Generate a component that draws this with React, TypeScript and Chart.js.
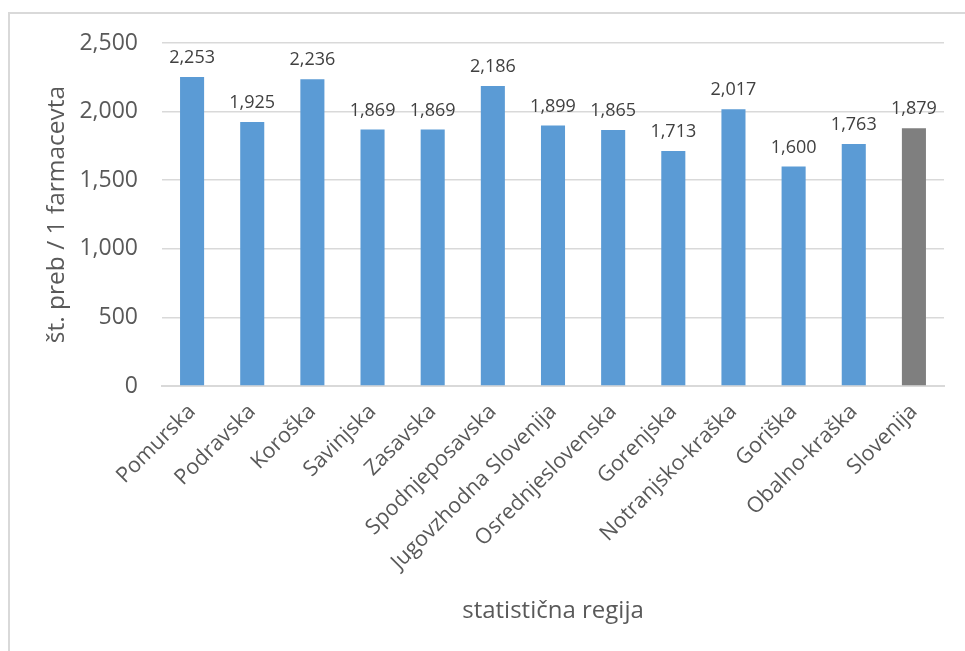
import React, { useEffect, useRef } from "react";
import { Chart, registerables } from "chart.js";

Chart.register(...registerables);

const categories = [
  "Pomurska",
  "Podravska",
  "Koroška",
  "Savinjska",
  "Zasavska",
  "Spodnjeposavska",
  "Jugovzhodna Slovenija",
  "Osrednjeslovenska",
  "Gorenjska",
  "Notranjsko-kraška",
  "Goriška",
  "Obalno-kraška",
  "Slovenija",
];
const values = [2253, 1925, 2236, 1869, 1869, 2186, 1899, 1865, 1713, 2017, 1600, 1763, 1879];
const barColors = [
  "#5B9BD5", "#5B9BD5", "#5B9BD5", "#5B9BD5", "#5B9BD5", "#5B9BD5", "#5B9BD5",
  "#5B9BD5", "#5B9BD5", "#5B9BD5", "#5B9BD5", "#5B9BD5", "#7F7F7F",
];
const yTitle = "št. preb / 1 farmacevta";
const xTitle = "statistična regija";

const FONT = "'Open Sans', 'DejaVu Sans', sans-serif";

const dataLabels = {
  id: "dataLabels",
  afterDatasetsDraw(chart: any) {
    const ctx = chart.ctx;
    const meta = chart.getDatasetMeta(0);
    ctx.save();
    ctx.font = `18px ${FONT}`;
    ctx.fillStyle = "#404040";
    ctx.textAlign = "center";
    ctx.textBaseline = "bottom";
    meta.data.forEach((bar: any, i: number) => {
      const v = chart.data.datasets[0].data[i] as number;
      ctx.fillText(v.toLocaleString("en-US"), bar.x, bar.y - 10);
    });
    ctx.restore();
  },
};

export default function App() {
  const ref = useRef<HTMLCanvasElement | null>(null);
  useEffect(() => {
    if (!ref.current) return;
    const chart = new Chart(ref.current, {
      type: "bar",
      data: {
        labels: categories,
        datasets: [
          {
            data: values,
            backgroundColor: barColors,
            barPercentage: 0.4,
            categoryPercentage: 1,
          },
        ],
      },
      options: {
        responsive: false,
        animation: false,
        layout: { padding: { left: 10, right: 21, top: 43, bottom: 10 } },
        plugins: { legend: { display: false }, tooltip: { enabled: false } },
        scales: {
          x: {
            grid: { display: false },
            border: { display: true, color: "#d9d9d9", width: 2 },
            ticks: {
              color: "#595959",
              font: { family: FONT, size: 21.5 },
              minRotation: 45,
              maxRotation: 45,
              padding: 5,
              autoSkip: false,
            },
            title: {
              display: true,
              text: xTitle,
              color: "#595959",
              font: { family: FONT, size: 24 },
              padding: { top: 0, bottom: 15 },
            },
            afterFit(scale: any) {
              scale.height = 651 - 386 - 10;
            },
          },
          y: {
            min: 0,
            max: 2500,
            ticks: {
              stepSize: 500,
              color: "#595959",
              font: { family: FONT, size: 23 },
              padding: 24,
              callback: (v: any) => Number(v).toLocaleString("en-US"),
            },
            grid: { color: "#d9d9d9", lineWidth: 1.5, drawTicks: false },
            border: { display: false },
            title: {
              display: true,
              text: yTitle,
              color: "#595959",
              font: { family: FONT, size: 24.5 },
              padding: { top: 32, bottom: 0 },
            },
            afterFit(scale: any) {
              scale.width = 152;
            },
          },
        },
      },
      plugins: [dataLabels],
    });
    return () => chart.destroy();
  }, []);

  return (
    <div style={{ position: "fixed", left: 0, top: 0, width: 965, height: 651, background: "#fff", overflow: "hidden" }}>
      <div
        style={{
          position: "absolute",
          left: 8,
          top: 12,
          width: 1100,
          height: 1100,
          border: "2px solid #d9d9d9",
          boxSizing: "border-box",
        }}
      />
      <canvas ref={ref} width={965} height={651} style={{ position: "absolute", left: 0, top: 0, width: 965, height: 651 }} />
    </div>
  );
}
